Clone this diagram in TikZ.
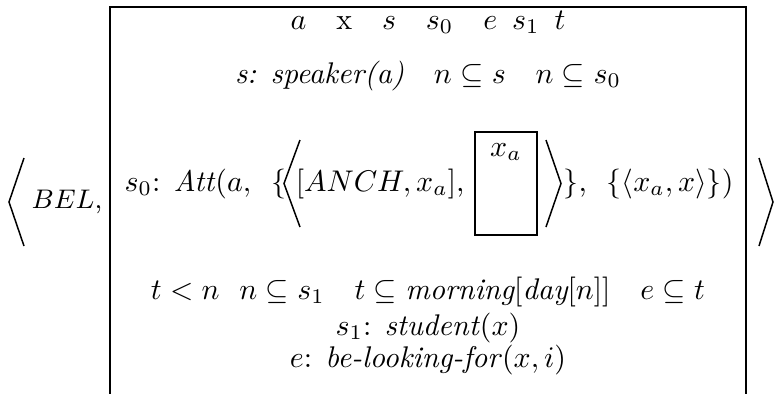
\documentclass[tikz,border=0pt]{standalone}
\begin{document}
\begin{tikzpicture}[x=0.3344pt,y=-0.3344pt]

    % Styles: frame lines, bracket strokes, text rows
    \tikzset{
        frm/.style={line width=0.7pt},
        ibox/.style={draw, line width=0.9pt, minimum width=20.7pt, minimum height=34.4pt, inner sep=0pt},
        brk/.style={line width=0.5pt, line join=miter},
        row/.style={inner sep=0pt, anchor=base}
    }

    \useasboundingbox (0,0) rectangle (774,393);

    % Row baselines (1 unit = 1 px of the picture, y downwards)
    \def\ya{29}
    \def\yb{83}
    \def\yc{191}
    \def\yd{299}
    \def\ye{335}
    \def\yf{367}

    % Outer angle brackets and BEL
    \draw[brk] (24,158) -- (9,202) -- (24,246);
    \draw[brk] (759,158) -- (773,202) -- (759,246);
    \node[row, anchor=base west, font=\fontsize{9.1}{11}\selectfont] (bel) at (31,208) {$BEL$,};

    % Box, open at the bottom
    \draw[frm] (110,394) -- (110,7) -- (746,7) -- (746,394);

    % --- universe and first conditions ---
    \node[row] (univ) at (428,\ya) {$a$\quad x\quad $s$\quad $s_0$\quad $e$\enspace $s_1$\enspace $t$};
    \node[row] (spk) at (428,\yb) {\textit{s: speaker(a)}\quad $n\subseteq s$\quad $n\subseteq s_0$};

    % --- s_0 row with the embedded box ---
    \node[row, anchor=base west] (att) at (124,\yc) {$s_0$: \textit{Att}$(a,$\ \ $\{$};
    \draw[brk] (300,140) -- (284,183.5) -- (300,227);
    \node[row, anchor=base east] (anch) at (465,\yc) {$[ANCH,x_a]$,};
    \node[ibox] (xbox) at (506,183.5) {};
    \node[row] (xa) at (506,156) {$x_a$};
    \draw[brk] (546,140) -- (561,183.5) -- (546,227);
    \node[row, anchor=base west] (rest) at (563,\yc) {$\}$,\ \ $\{\langle x_a,x\rangle\}$)};

    % --- lower conditions ---
    \node[row] (tcond) at (428,\yd) {$t<n$\ \ $n\subseteq s_1$\quad $t\subseteq \textit{morning}[\textit{day}[n]]$\quad $e\subseteq t$};
    \node[row] (stud) at (428,\ye) {$s_1$: \textit{student}$(x)$};
    \node[row] (look) at (428,\yf) {$e$: \textit{be-looking-for}$(x,i)$};

\end{tikzpicture}
\end{document}
